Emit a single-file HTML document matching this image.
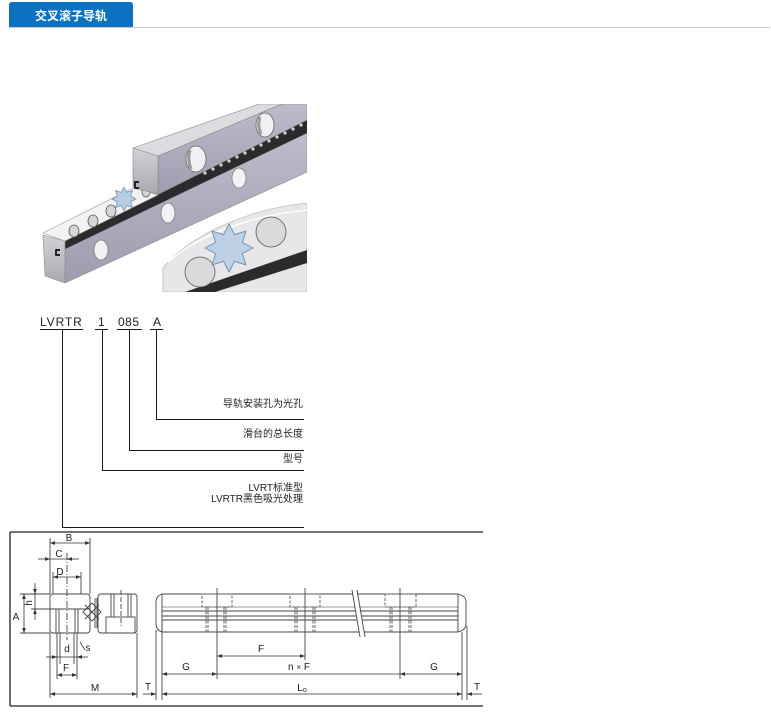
<!DOCTYPE html>
<html><head><meta charset="utf-8">
<style>
html,body{margin:0;padding:0;background:#fff;width:771px;height:716px;overflow:hidden}
svg{display:block}
text{font-family:"Liberation Sans","Noto Sans CJK SC",sans-serif}
</style></head><body>
<svg width="771" height="716" viewBox="0 0 771 716" xmlns="http://www.w3.org/2000/svg">
<defs>
  <marker id="ar" viewBox="0 0 6 6" refX="6" refY="3" markerWidth="5" markerHeight="5" orient="auto-start-reverse" markerUnits="userSpaceOnUse">
    <path d="M0,0.8 L6,3 L0,5.2z" fill="#333"/>
  </marker>
  <linearGradient id="side" x1="0" y1="0" x2="0" y2="1">
    <stop offset="0" stop-color="#bcbccb"/><stop offset="1" stop-color="#9d9daf"/>
  </linearGradient>
  <linearGradient id="end" x1="0" y1="0" x2="0" y2="1">
    <stop offset="0" stop-color="#d2d2d6"/><stop offset="1" stop-color="#a8a8ae"/>
  </linearGradient>
  <clipPath id="imgclip"><rect x="40" y="104" width="267" height="188"/></clipPath>
</defs>

<!-- Header -->
<path d="M9,27 V5 Q9,2 12,2 H130 Q133,2 133,5 V27 Z" fill="#0b72c2"/>
<line x1="9" y1="27.5" x2="770" y2="27.5" stroke="#c8c8c8" stroke-width="1"/>
<text x="71" y="20" text-anchor="middle" fill="#fff" font-size="12" font-weight="bold">交叉滚子导轨</text>

<!-- 3D picture -->
<g clip-path="url(#imgclip)" stroke-linejoin="round">
  <polygon points="65,249 307,133 307,172 65,283" fill="url(#side)" stroke="#888" stroke-width="0.6"/>
  <polygon points="65,241 307,120 307,133 65,249" fill="#2b2b2e"/>
  <g fill="#d4d4d8">
    <circle cx="205" cy="173" r="1.6"/><circle cx="213" cy="169" r="1.6"/><circle cx="221" cy="165" r="1.6"/>
    <circle cx="229" cy="161" r="1.6"/><circle cx="237" cy="157" r="1.6"/><circle cx="245" cy="153" r="1.6"/>
    <circle cx="253" cy="149" r="1.6"/><circle cx="261" cy="145" r="1.6"/><circle cx="269" cy="141" r="1.6"/>
    <circle cx="277" cy="137" r="1.6"/><circle cx="285" cy="133" r="1.6"/><circle cx="293" cy="129" r="1.6"/>
    <circle cx="301" cy="125" r="1.6"/>
  </g>
  <polygon points="43,235 65,241 65,283 45,276" fill="url(#end)" stroke="#888" stroke-width="0.6"/>
  <path d="M60,250 h-4 v5 h4" fill="none" stroke="#222" stroke-width="2"/>
  <ellipse cx="101" cy="250" rx="7" ry="10" fill="#f2f2f4" stroke="#777" stroke-width="0.7"/>
  <ellipse cx="168" cy="213" rx="7" ry="10" fill="#f2f2f4" stroke="#777" stroke-width="0.7"/>
  <ellipse cx="239" cy="178" rx="7" ry="10" fill="#f2f2f4" stroke="#777" stroke-width="0.7"/>
  <polygon points="43,233 133,188 158,195 65,241" fill="#f3f3f5" stroke="#9a9a9a" stroke-width="0.6"/>
  <g fill="#d6d6d8" stroke="#555" stroke-width="0.8">
    <ellipse cx="74" cy="231" rx="5" ry="6"/>
    <ellipse cx="93" cy="221" rx="5" ry="6"/>
    <ellipse cx="111" cy="211" rx="5" ry="6"/>
    <ellipse cx="146" cy="192" rx="4" ry="5"/>
  </g>
  <polygon transform="translate(124,199) scale(12)" points="1,0 .554,.23 .707,.707 .23,.554 0,1 -.23,.554 -.707,.707 -.554,.23 -1,0 -.554,-.23 -.707,-.707 -.23,-.554 0,-1 .23,-.554 .707,-.707 .554,-.23" fill="#b9cde3" stroke="#6f8fb2" stroke-width="0.06"/>
  <polygon points="133,148 259,104 282,104 158,156" fill="#dcdce0" stroke="#8a8a8a" stroke-width="0.6"/>
  <polygon points="158,156 282,104 307,104 307,120 158,194.5" fill="url(#side)" stroke="#888" stroke-width="0.6"/>
  <polygon points="133,148 158,156 158,194.5 133,187" fill="url(#end)" stroke="#888" stroke-width="0.6"/>
  <path d="M139,182 h-4 v6 h4" fill="none" stroke="#222" stroke-width="2"/>
  <ellipse cx="196" cy="159" rx="10" ry="13" fill="#f0f0f2" stroke="#666" stroke-width="0.8"/>
  <path d="M190,150 q-3,9 1,19" fill="none" stroke="#999" stroke-width="3"/>
  <ellipse cx="265" cy="125" rx="9" ry="12" fill="#f0f0f2" stroke="#666" stroke-width="0.8"/>
  <path d="M260,117 q-3,8 1,17" fill="none" stroke="#999" stroke-width="3"/>
  <path d="M163,292 L163,268 C185,240 240,210 307,203 L307,292 Z" fill="#e7e7e9" stroke="#bdbdbd" stroke-width="0.8"/>
  <path d="M168,262 C195,238 245,216 307,210" fill="none" stroke="#fff" stroke-width="1.5"/>
  <polygon points="185,292 307,250 307,263 215,292" fill="#2b2b2e"/>
  <circle cx="271" cy="232" r="15" fill="#d9d9dc" stroke="#555" stroke-width="0.8"/>
  <circle cx="200" cy="272" r="15" fill="#d9d9dc" stroke="#555" stroke-width="0.8"/>
  <polygon transform="translate(229,248) scale(24)" points="1,0 .554,.23 .707,.707 .23,.554 0,1 -.23,.554 -.707,.707 -.554,.23 -1,0 -.554,-.23 -.707,-.707 -.23,-.554 0,-1 .23,-.554 .707,-.707 .554,-.23" fill="#b9cde3" fill-opacity="0.9" stroke="#6f8fb2" stroke-width="0.04"/>
</g>

<!-- Model code -->
<g fill="#222" font-size="12">
  <text x="40" y="326" letter-spacing="0.9">LVRTR</text>
  <text x="98" y="326">1</text>
  <text x="118" y="326" letter-spacing="0.5">085</text>
  <text x="153" y="326">A</text>
</g>
<g stroke="#1a1a1a" stroke-width="1" fill="none">
  <line x1="40" y1="329.5" x2="83" y2="329.5"/>
  <line x1="95" y1="329.5" x2="108" y2="329.5"/>
  <line x1="117" y1="329.5" x2="142" y2="329.5"/>
  <line x1="150" y1="329.5" x2="163" y2="329.5"/>
  <polyline points="62.5,329 62.5,527.5 304,527.5"/>
  <polyline points="102.5,329 102.5,470.5 304,470.5"/>
  <polyline points="129.5,329 129.5,450.5 304,450.5"/>
  <polyline points="156.5,329 156.5,419.5 304,419.5"/>
</g>
<g fill="#222" font-size="10" text-anchor="end">
  <text x="303" y="407">导轨安装孔为光孔</text>
  <text x="303" y="437">滑台的总长度</text>
  <text x="303" y="462">型号</text>
  <text x="303" y="491">LVRT标准型</text>
  <text x="303" y="502">LVRTR黑色吸光处理</text>
</g>

<!-- Drawing frame -->
<g stroke="#222" stroke-width="1.3" fill="none">
  <line x1="10" y1="532" x2="483" y2="532"/>
  <line x1="10" y1="706" x2="483" y2="706"/>
  <line x1="10" y1="532" x2="10" y2="706"/>
</g>

<!-- Cross section -->
<g stroke="#444" stroke-width="0.9" fill="none">
  <rect x="50" y="594" width="40" height="39" rx="3"/>
  <line x1="50" y1="609" x2="89" y2="609"/>
  <line x1="56" y1="609" x2="56" y2="633"/><line x1="59" y1="609" x2="59" y2="633"/>
  <line x1="75" y1="609" x2="75" y2="633"/><line x1="78" y1="609" x2="78" y2="633"/>
  <line x1="67" y1="553" x2="67" y2="640" stroke-dasharray="7,2,1,2"/>
  <polygon points="83,612 92,603 101,612 92,621"/>
  <line x1="85" y1="605" x2="99" y2="619"/><line x1="99" y1="605" x2="85" y2="619"/>
  <line x1="95" y1="598" x2="95" y2="628"/><line x1="97" y1="598" x2="97" y2="628"/>
  <rect x="98" y="594" width="39" height="39" rx="3"/>
  <line x1="111" y1="594" x2="111" y2="617"/><line x1="114" y1="594" x2="114" y2="617"/>
  <line x1="128" y1="594" x2="128" y2="617"/><line x1="131" y1="594" x2="131" y2="617"/>
  <line x1="121" y1="590" x2="121" y2="626" stroke-dasharray="5,2"/>
  <rect x="106" y="617" width="29" height="16"/>
  <line x1="50" y1="538" x2="50" y2="594"/>
  <line x1="90" y1="538" x2="90" y2="594"/>
  <line x1="53" y1="572" x2="53" y2="594"/>
  <line x1="81" y1="572" x2="81" y2="594"/>
  <line x1="20" y1="594" x2="50" y2="594"/>
  <line x1="31" y1="609" x2="50" y2="609"/>
  <line x1="20" y1="633" x2="50" y2="633"/>
  <line x1="57" y1="633" x2="57" y2="679"/><line x1="60" y1="633" x2="60" y2="664"/>
  <line x1="74" y1="633" x2="74" y2="664"/><line x1="77" y1="633" x2="77" y2="679"/>
  <line x1="50" y1="633" x2="50" y2="698"/>
  <line x1="137" y1="633" x2="137" y2="698"/>
  <line x1="80" y1="642" x2="85" y2="650"/>
</g>
<g stroke="#333" stroke-width="0.8" fill="none">
  <line x1="50" y1="543" x2="90" y2="543" marker-start="url(#ar)" marker-end="url(#ar)"/>
  <line x1="38" y1="559" x2="50" y2="559" marker-end="url(#ar)"/>
  <line x1="50" y1="559" x2="67" y2="559"/>
  <line x1="79" y1="559" x2="67" y2="559" marker-end="url(#ar)"/>
  <line x1="53" y1="577" x2="81" y2="577" marker-start="url(#ar)" marker-end="url(#ar)"/>
  <line x1="35" y1="583" x2="35" y2="594" marker-end="url(#ar)"/>
  <line x1="35" y1="594" x2="35" y2="609"/>
  <line x1="35" y1="620" x2="35" y2="609" marker-end="url(#ar)"/>
  <line x1="24" y1="594" x2="24" y2="633" marker-start="url(#ar)" marker-end="url(#ar)"/>
  <line x1="46" y1="657" x2="57" y2="657" marker-end="url(#ar)"/>
  <line x1="57" y1="657" x2="77" y2="657"/>
  <line x1="88" y1="657" x2="77" y2="657" marker-end="url(#ar)"/>
  <line x1="57" y1="675" x2="77" y2="675" marker-start="url(#ar)" marker-end="url(#ar)"/>
  <line x1="50" y1="694" x2="137" y2="694" marker-start="url(#ar)" marker-end="url(#ar)"/>
</g>
<g fill="#222" font-size="10" text-anchor="middle">
  <text x="69" y="541">B</text>
  <text x="59" y="557">C</text>
  <text x="60" y="575">D</text>
  <text x="32" y="603" transform="rotate(-90 32 603)">h</text>
  <text x="16" y="620">A</text>
  <text x="67" y="652">d</text>
  <text x="88" y="651">s</text>
  <text x="66" y="671">F</text>
  <text x="95" y="691">M</text>
  <text x="148" y="690">T</text>
  <text x="261" y="652">F</text>
  <text x="186" y="670">G</text>
  <text x="299" y="670">n <tspan font-size="8">×</tspan> F</text>
  <text x="434" y="670">G</text>
  <text x="302" y="691">L<tspan font-size="7" dy="1">o</tspan></text>
  <text x="477" y="690">T</text>
</g>

<!-- Long rail -->
<g stroke="#444" stroke-width="0.9" fill="none">
  <path d="M162,594 Q156,596 156,602 L156,624 Q156,630 162,632"/>
  <path d="M458,594 Q466,596 466,602 L466,624 Q466,630 458,632"/>
  <line x1="162" y1="594" x2="458" y2="594"/>
  <line x1="162" y1="607" x2="458" y2="607" stroke="#999"/>
  <line x1="162" y1="611" x2="458" y2="611"/>
  <line x1="162" y1="616" x2="458" y2="616"/>
  <line x1="162" y1="620" x2="458" y2="620"/>
  <line x1="162" y1="632" x2="458" y2="632"/>
  <line x1="162" y1="594" x2="162" y2="632"/>
  <line x1="458" y1="594" x2="458" y2="632"/>
</g>
<g stroke="#666" stroke-width="1" fill="none" stroke-dasharray="3,1.5">
  <rect x="202" y="594" width="30" height="13"/>
  <line x1="206" y1="607" x2="206" y2="632"/><line x1="208" y1="607" x2="208" y2="632"/>
  <line x1="224" y1="607" x2="224" y2="632"/><line x1="226" y1="607" x2="226" y2="632"/>
  <rect x="290" y="594" width="30" height="13"/>
  <line x1="295" y1="607" x2="295" y2="632"/><line x1="297" y1="607" x2="297" y2="632"/>
  <line x1="313" y1="607" x2="313" y2="632"/><line x1="315" y1="607" x2="315" y2="632"/>
  <rect x="385" y="594" width="31" height="13"/>
  <line x1="390" y1="607" x2="390" y2="632"/><line x1="392" y1="607" x2="392" y2="632"/>
  <line x1="409" y1="607" x2="409" y2="632"/><line x1="411" y1="607" x2="411" y2="632"/>
</g>
<polygon points="352,590 357,590 365,637 360,637" fill="#fff"/>
<g stroke="#444" stroke-width="0.9" fill="none">
  <line x1="352" y1="590" x2="360" y2="637"/>
  <line x1="357" y1="590" x2="365" y2="637"/>
  <line x1="217" y1="588" x2="217" y2="679"/>
  <line x1="305" y1="588" x2="305" y2="660"/>
  <line x1="400" y1="588" x2="400" y2="679"/>
  <line x1="156" y1="630" x2="156" y2="700"/>
  <line x1="162" y1="620" x2="162" y2="700"/>
  <line x1="462" y1="632" x2="462" y2="700"/>
  <line x1="467" y1="626" x2="467" y2="700"/>
</g>
<g stroke="#333" stroke-width="0.8" fill="none">
  <line x1="217" y1="656" x2="305" y2="656" marker-start="url(#ar)" marker-end="url(#ar)"/>
  <line x1="162" y1="674" x2="217" y2="674" marker-start="url(#ar)" marker-end="url(#ar)"/>
  <line x1="217" y1="674" x2="400" y2="674"/>
  <line x1="400" y1="674" x2="462" y2="674" marker-start="url(#ar)" marker-end="url(#ar)"/>
  <line x1="162" y1="694" x2="462" y2="694" marker-start="url(#ar)" marker-end="url(#ar)"/>
  <line x1="143" y1="694" x2="156" y2="694" marker-end="url(#ar)"/>
  <line x1="482" y1="694" x2="467" y2="694" marker-end="url(#ar)"/>
</g>
</svg>
</body></html>
